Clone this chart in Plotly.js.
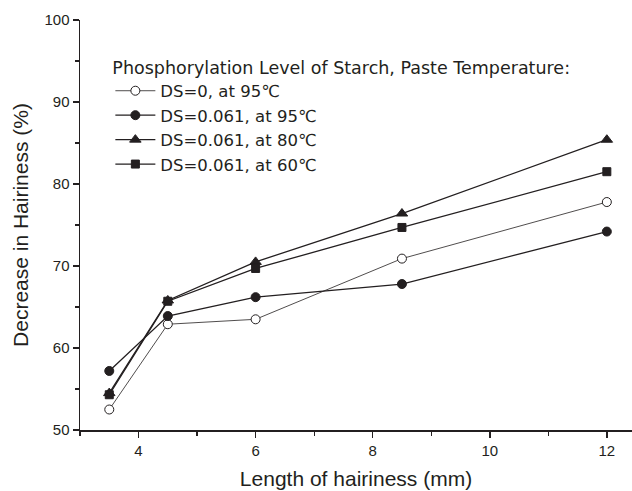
<!DOCTYPE html>
<html><head><meta charset="utf-8">
<script src="https://cdn.plot.ly/plotly-3.0.1.min.js"></script>
<style>html,body{margin:0;padding:0;background:#fff}</style>
</head><body><div id="chart" style="width:632px;height:491px"></div>
<script>
const lengths = [3.5, 4.5, 6, 8.5, 12];
const ds0_95 = [52.5, 62.9, 63.5, 70.9, 77.8];
const ds061_95 = [57.2, 63.9, 66.2, 67.8, 74.2];
const ds061_80 = [54.5, 65.8, 70.5, 76.4, 85.4];
const ds061_60 = [54.3, 65.7, 69.7, 74.7, 81.5];
const names = ['DS=0, at 95℃', 'DS=0.061, at 95℃', 'DS=0.061, at 80℃', 'DS=0.061, at 60℃'];
const ink = '#231f20';
function tr(y, name, symbol, lw, fill, size) {
  return {x: lengths, y: y, name: name, type: 'scatter', mode: 'lines+markers',
    line: {color: ink, width: lw},
    marker: {symbol: symbol, size: size, color: fill, line: {color: ink, width: 1}}};
}
const data = [
  tr(ds0_95, names[0], 'circle', 0.8, '#fff', 9),
  tr(ds061_95, names[1], 'circle', 1.3, ink, 9),
  tr(ds061_80, names[2], 'triangle-up', 1.3, ink, 10),
  tr(ds061_60, names[3], 'square', 1.3, ink, 8)
];
const sans = 'Liberation Sans, Arial, sans-serif';
const legFont = 'DejaVu Sans, sans-serif';
const layout = {
  width: 632, height: 491,
  margin: {l: 80, r: 0, t: 20, b: 61},
  paper_bgcolor: '#fff', plot_bgcolor: '#fff',
  font: {family: sans, color: ink},
  showlegend: true,
  legend: {x: 0.055, y: 0.925, xanchor: 'left', yanchor: 'top',
    itemwidth: 40,
    bgcolor: 'rgba(0,0,0,0)', font: {size: 16.5, color: ink, family: legFont},
    title: {text: 'Phosphorylation Level of Starch, Paste Temperature:', side: 'top',
            font: {size: 17.5, color: ink, family: legFont}},
    tracegroupgap: 0},
  xaxis: {range: [3, 12.43], tickvals: [4, 6, 8, 10, 12], ticks: 'outside', ticklen: 6,
    tickwidth: 1.5, tickcolor: ink, showline: true, linecolor: ink, linewidth: 1.5,
    showgrid: false, zeroline: false, tickfont: {size: 15, color: ink},
    minor: {tickvals: [3, 5, 7, 9, 11], ticks: 'outside', ticklen: 4, tickcolor: ink, tickwidth: 1.2, showgrid: false},
    title: {text: 'Length of hairiness (mm)', font: {size: 21, color: ink}, standoff: 14}},
  yaxis: {range: [50, 100], tickvals: [50, 60, 70, 80, 90, 100], ticks: 'outside', ticklen: 6,
    tickwidth: 1.5, tickcolor: ink, showline: true, linecolor: ink, linewidth: 1.5,
    showgrid: false, zeroline: false, tickfont: {size: 15, color: ink},
    minor: {tickvals: [55, 65, 75, 85, 95], ticks: 'outside', ticklen: 4, tickcolor: ink, tickwidth: 1.2, showgrid: false},
    title: {text: 'Decrease in Hairiness (%)', font: {size: 21, color: ink}, standoff: 10}}
};
Plotly.newPlot('chart', data, layout, {staticPlot: true, displayModeBar: false});
</script></body></html>
